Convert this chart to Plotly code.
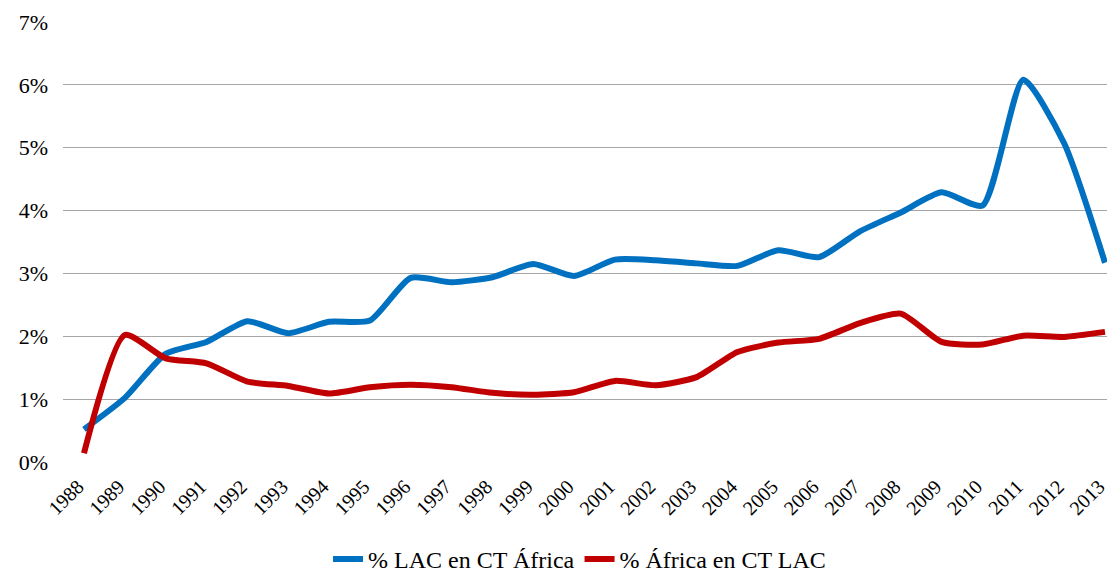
import plotly.graph_objects as go

years = list(range(1988, 2014))
lac_en_africa = [0.52, 1.02, 1.72, 1.91, 2.24, 2.05, 2.23, 2.25, 2.93, 2.86, 2.94, 3.15,
                 2.96, 3.22, 3.21, 3.16, 3.12, 3.37, 3.26, 3.67, 3.97, 4.29, 4.08, 6.08,
                 5.07, 3.17]
africa_en_lac = [0.14, 2.02, 1.65, 1.57, 1.28, 1.21, 1.09, 1.19, 1.23, 1.19, 1.10, 1.07,
                 1.11, 1.29, 1.22, 1.35, 1.75, 1.90, 1.96, 2.21, 2.36, 1.91, 1.87, 2.01,
                 1.99, 2.07]
y_ticks = [0, 1, 2, 3, 4, 5, 6, 7]

fig = go.Figure()
fig.add_trace(go.Scatter(
    x=years, y=[v / 100 for v in lac_en_africa], mode="lines",
    name="% LAC en CT África",
    line=dict(color="#0070C0", width=6, shape="spline", smoothing=0.6),
))
fig.add_trace(go.Scatter(
    x=years, y=[v / 100 for v in africa_en_lac], mode="lines",
    name="% África en CT LAC",
    line=dict(color="#C00000", width=6, shape="spline", smoothing=0.6),
))

fig.update_layout(
    width=1107, height=569,
    margin=dict(l=55, r=0, t=14, b=115, autoexpand=False),
    paper_bgcolor="white", plot_bgcolor="white",
    font=dict(family="Liberation Serif, Times New Roman, serif", color="#000000", size=20),
    showlegend=True,
    legend=dict(orientation="h", x=0.491, xanchor="center", y=-0.17, yanchor="top",
                font=dict(size=24), itemwidth=30, traceorder="normal"),
)
fig.update_xaxes(
    range=[1987.486, 2013.245], automargin=False,
    tickmode="array", tickvals=years, ticktext=[str(y) for y in years],
    tickangle=-45, showgrid=False, zeroline=False, showline=False,
    ticks="", tickfont=dict(size=20), ticklabelstandoff=8, ticklabelshift=-6,
    ticklabeloverflow="allow",
)
fig.update_yaxes(
    range=[0, 0.07], automargin=False,
    tickmode="array", tickvals=[t / 100 for t in y_ticks],
    ticktext=[f"{t}%" for t in y_ticks],
    showgrid=True, gridcolor="#A6A6A6", gridwidth=1.3,
    zeroline=False, showline=False, ticks="", tickfont=dict(size=22),
    ticklabelstandoff=14,
)

fig.write_html("out.html")
